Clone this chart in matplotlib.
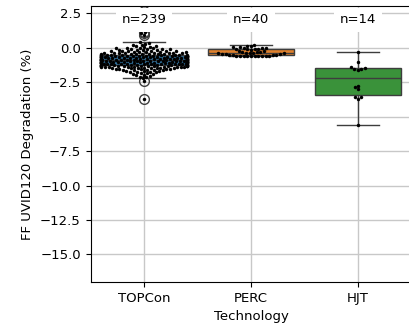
import numpy as np
import pandas as pd
import matplotlib
matplotlib.use("Agg")
import matplotlib.pyplot as plt
import seaborn as sns

categories = ["TOPCon", "PERC", "HJT"]
counts_labels = ["n=239", "n=40", "n=14"]

topcon = [
    -3.72, -2.44, -2.20, -2.15, -2.10, -2.05, -2.00, -1.96, -1.92, -1.88,
    -1.85, -1.82, -1.79, -1.76, -1.74, -1.72, -1.70, -1.68, -1.66, -1.64,
    -1.62, -1.60, -1.59, -1.58, -1.56, -1.55, -1.54, -1.52, -1.51, -1.50,
    -1.49, -1.48, -1.47, -1.46, -1.45, -1.44, -1.43, -1.42, -1.41, -1.40,
    -1.40, -1.39, -1.38, -1.37, -1.36, -1.36, -1.35, -1.34, -1.34, -1.33,
    -1.32, -1.32, -1.31, -1.31, -1.30, -1.30, -1.29, -1.29, -1.28, -1.28,
    -1.27, -1.26, -1.26, -1.25, -1.25, -1.24, -1.23, -1.23, -1.22, -1.21,
    -1.21, -1.20, -1.20, -1.19, -1.18, -1.18, -1.17, -1.16, -1.16, -1.15,
    -1.15, -1.14, -1.13, -1.13, -1.12, -1.11, -1.11, -1.10, -1.10, -1.09,
    -1.08, -1.08, -1.07, -1.06, -1.06, -1.05, -1.04, -1.04, -1.03, -1.03,
    -1.02, -1.01, -1.01, -1.00, -1.00, -0.99, -0.98, -0.98, -0.97, -0.97,
    -0.96, -0.96, -0.95, -0.95, -0.94, -0.94, -0.93, -0.93, -0.93, -0.92,
    -0.91, -0.91, -0.90, -0.90, -0.89, -0.88, -0.88, -0.87, -0.87, -0.86,
    -0.85, -0.85, -0.84, -0.84, -0.83, -0.82, -0.82, -0.81, -0.81, -0.80,
    -0.79, -0.79, -0.78, -0.78, -0.77, -0.76, -0.76, -0.75, -0.74, -0.74,
    -0.73, -0.72, -0.72, -0.71, -0.70, -0.70, -0.69, -0.68, -0.68, -0.67,
    -0.66, -0.66, -0.65, -0.64, -0.64, -0.63, -0.62, -0.62, -0.61, -0.60,
    -0.60, -0.59, -0.59, -0.58, -0.58, -0.57, -0.57, -0.56, -0.56,
    -0.55, -0.54, -0.54, -0.53, -0.52, -0.52, -0.51, -0.50, -0.49, -0.48,
    -0.47, -0.46, -0.45, -0.44, -0.43, -0.42, -0.41, -0.40, -0.39, -0.38,
    -0.37, -0.36, -0.35, -0.34, -0.33, -0.32, -0.30, -0.29, -0.28, -0.26,
    -0.25, -0.24, -0.22, -0.21, -0.20, -0.18, -0.17, -0.15, -0.14, -0.12,
    -0.10, -0.08, -0.06, -0.04, -0.02, 0.00, 0.02, 0.05, 0.08, 0.11,
    0.15, 0.19, 0.24, 0.30, 0.37, 0.45, 0.94, 1.05, 1.18, 2.68,
]

perc = [
    -0.62, -0.60, -0.60, -0.59, -0.59, -0.58, -0.58, -0.58, -0.57, -0.57,
    -0.55, -0.53, -0.51, -0.49, -0.47, -0.45, -0.43, -0.41, -0.40, -0.39,
    -0.37, -0.35, -0.33, -0.30, -0.27, -0.24, -0.20, -0.16, -0.12, -0.10,
    -0.08, -0.06, -0.04, -0.02, 0.00, 0.03, 0.06, 0.10, 0.15, 0.22,
]

hjt = [
    -0.27, -1.00, -1.42, -1.48, -1.52, -1.56, -1.62,
    -2.75, -2.85, -3.00, -3.55, -3.60, -3.68, -5.63,
]

yticks = [-15.0, -12.5, -10.0, -7.5, -5.0, -2.5, 0.0, 2.5]

df = pd.DataFrame({
    "Technology": ["TOPCon"] * len(topcon) + ["PERC"] * len(perc) + ["HJT"] * len(hjt),
    "FF": topcon + perc + hjt,
})

plt.rcParams["font.size"] = 9.5
plt.rcParams["font.family"] = ["DejaVu Sans"]

fig = plt.figure(figsize=(4.09, 3.25), dpi=100)
ax = fig.add_axes([90.5 / 409, 43 / 325, 321 / 409, 275.5 / 325])

palette = ["#1f77b4", "#ff7f0e", "#2ca02c"]
sns.boxplot(data=df, x="Technology", y="FF", hue="Technology", order=categories,
            hue_order=categories, palette=palette, legend=False, ax=ax, width=0.8,
            flierprops=dict(marker="o", markersize=7, markerfacecolor="none",
                            markeredgecolor="#3f3f3f", markeredgewidth=1.0))
sns.swarmplot(data=df, x="Technology", y="FF", order=categories, color="black",
              size=2.5, ax=ax)

ax.set_ylim(-17, 3)
ax.set_xlim(-0.5, 2.5)
ax.set_yticks(yticks)
ax.set_ylabel("FF UVID120 Degradation (%)")
ax.set_xlabel("Technology")
ax.set_axisbelow(True)
ax.xaxis.grid(True, color="#c8c8c8", linewidth=1.0)
ax.yaxis.grid(True, color="#c8c8c8", linewidth=1.0)
ax.spines["right"].set_visible(False)

for i, lab in enumerate(counts_labels):
    ax.text(i, 2.05, lab, ha="center", va="center",
            bbox=dict(facecolor="white", edgecolor="none", pad=4))

fig.savefig("out.png", dpi=100)
